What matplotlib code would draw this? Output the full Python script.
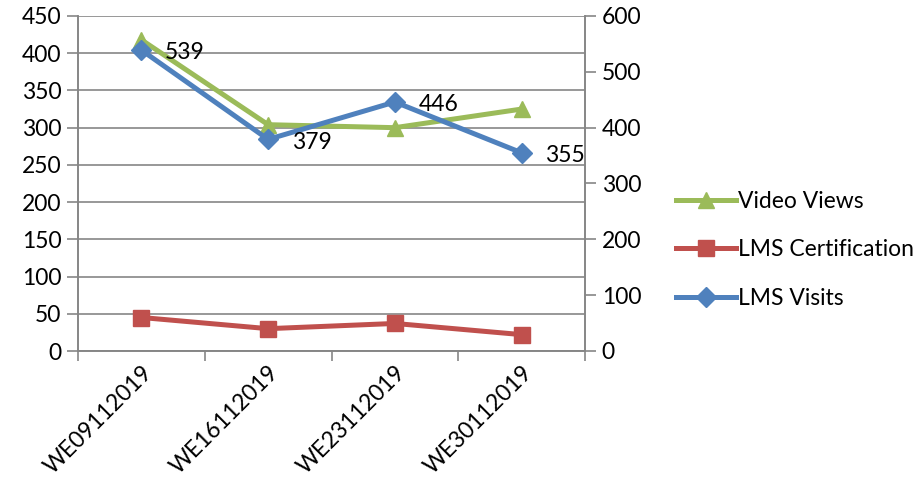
import numpy as np
import matplotlib.pyplot as plt
from matplotlib.lines import Line2D

plt.rcParams['font.family'] = ['Lato', 'DejaVu Sans']

weeks = ['WE09112019', 'WE16112019', 'WE23112019', 'WE30112019']
video_views = [418, 304, 300, 325]
lms_certification = [45, 30, 37, 22]
lms_visits = [539, 379, 446, 355]

green = '#9BBB59'
red = '#C0504D'
blue = '#4F81BD'
grid_col = '#868686'
fs = 16.5

fig = plt.figure(figsize=(9.22, 4.92), dpi=100)
ax = fig.add_axes([78 / 922, 1 - 351 / 492, (585 - 78) / 922, (351 - 16) / 492])
ax2 = ax.twinx()

x = np.arange(len(weeks))

ax.plot(x, video_views, color=green, linewidth=3.6, marker='^',
        markersize=12, label='Video Views', zorder=3)
ax.plot(x, lms_certification, color=red, linewidth=3.6, marker='s',
        markersize=11, label='LMS Certification', zorder=3)
ax2.plot(x, lms_visits, color=blue, linewidth=3.6, marker='D',
         markersize=10, label='LMS Visits', zorder=3)

for xi, v in zip(x, lms_visits):
    ax2.annotate(str(v), (xi, v), xytext=(17, -2), textcoords='offset points',
                 ha='left', va='center', fontsize=fs)

ax.set_xlim(-0.5, len(weeks) - 0.5)
ax.set_ylim(0, 450)
ax2.set_ylim(0, 600)
ax.set_yticks(np.arange(0, 451, 50))
ax2.set_yticks(np.arange(0, 601, 100))

ax.set_xticks(x)
ax.set_xticklabels(weeks, rotation=45, ha='right', rotation_mode='anchor',
                   fontsize=fs)
ax.tick_params(axis='x', length=0, pad=8)
ax.set_xticks(np.arange(-0.5, len(weeks)), minor=True)
ax.tick_params(axis='x', which='minor', length=7, color=grid_col, width=1.2)

ax.tick_params(axis='y', labelsize=fs, length=8, color=grid_col, width=1.2, pad=4)
ax2.tick_params(axis='y', labelsize=fs, length=8, color=grid_col, width=1.2, pad=4)

ax.grid(axis='y', color=grid_col, linewidth=1.2)
ax.set_axisbelow(True)

for a in (ax, ax2):
    a.spines['top'].set_visible(False)
    for s in ('left', 'right', 'bottom'):
        a.spines[s].set_color(grid_col)
        a.spines[s].set_linewidth(1.2)

handles = [
    Line2D([], [], color=green, linewidth=3.6, marker='^', markersize=12),
    Line2D([], [], color=red, linewidth=3.6, marker='s', markersize=11),
    Line2D([], [], color=blue, linewidth=3.6, marker='D', markersize=10),
]
fig.legend(handles, ['Video Views', 'LMS Certification', 'LMS Visits'],
           loc='center left', bbox_to_anchor=(667 / 922, 1 - 250 / 492),
           frameon=False, fontsize=fs, handlelength=2.6, handletextpad=0.1,
           labelspacing=1.2, borderaxespad=0)

fig.savefig('out.png', dpi=100)
